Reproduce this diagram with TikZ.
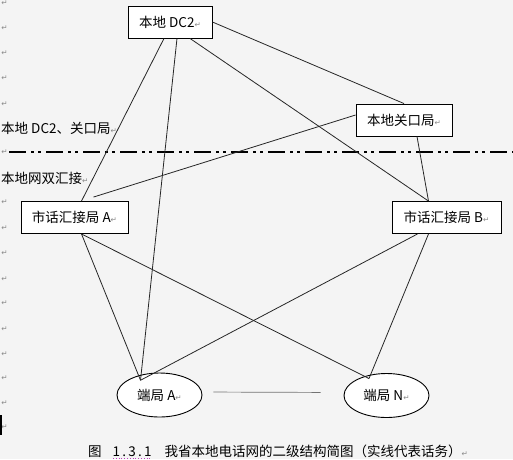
\documentclass[tikz,border=0pt]{standalone}
\usepackage{fontspec}
\setmainfont{Noto Sans CJK SC}
\newfontfamily\symfont{DejaVu Sans}
\usepackage{xcolor}
\usetikzlibrary{shapes.geometric,positioning}

\definecolor{pagebg}{HTML}{F4F4F4}
\definecolor{markgray}{HTML}{8A8A8A}
\definecolor{spellmark}{HTML}{C040C0}
\newcommand{\pmark}{{\symfont\fontsize{7.5}{8}\selectfont\color{markgray}↵}}

\tikzset{
	office/.style={draw, fill=white, line width=0.9pt, minimum height=32pt, inner sep=2pt, font=\fontsize{13.5}{15}\selectfont},
	endoffice/.style={ellipse, draw, fill=white, line width=0.9pt, minimum width=85pt, minimum height=44pt, inner sep=0pt, font=\fontsize{13.5}{15}\selectfont},
	trunk/.style={line width=0.8pt, black!85},
	sidelabel/.style={anchor=west, inner sep=0pt, font=\fontsize{13.5}{15}\selectfont},
	boundary/.style={line width=2.6pt, dash pattern=on 17pt off 5pt on 3pt off 4pt on 3pt off 5pt}
}

\begin{document}
\begin{tikzpicture}[x=1pt,y=-1pt]
	\useasboundingbox (0,0) rectangle (513,459);
	\fill[pagebg] (0,0) rectangle (513,459);

	% paragraph marks in the left margin
	\foreach \yy in {3,28,53,78,104,152,202,228,253,279,303,329,354,378,403,427}
		\node[inner sep=0pt] at (4.5,\yy) {\pmark};
	\fill[black] (0,415) rectangle (2,435);

	% level boundary
	\coordinate (lineL) at (9,152);
	\coordinate (lineR) at (513,152);
	\draw[boundary] (lineL) -- (lineR);
	\node[sidelabel] (upper) at (1,128) {本地 DC2、关口局\pmark};
	\node[sidelabel] (lower) at (1,178) {本地网双汇接\pmark};

	% offices
	\node[office, minimum width=84pt] (dc2) at (170,22) {本地 DC2\pmark};
	\node[office, minimum width=96pt] (gw) at (404,120) {本地关口局\pmark};
	\node[office, minimum width=107pt] (ta) at (74.5,217.5) {市话汇接局 A\pmark};
	\node[office, minimum width=109pt] (tb) at (446.5,217.5) {市话汇接局 B\pmark};
	\node[endoffice] (ea) at (159.5,395) {端局 A\pmark};
	\node[endoffice] (en) at (386.5,395.5) {端局 N\pmark};

	\coordinate (eatop) at ([xshift=-19pt,yshift=-7.7pt]ea.north);
	\coordinate (entop) at ([xshift=-17.5pt,yshift=-5.5pt]en.north);

	% trunks
	\draw[trunk] ([xshift=-6pt]dc2.south) -- ([xshift=7pt]ta.north);
	\draw[trunk] ([xshift=7pt]dc2.south) -- (eatop);
	\draw[trunk] ([xshift=20pt]dc2.south) -- ([xshift=-18pt]tb.north);
	\draw[trunk] (dc2.east) -- (gw.north);
	\draw[trunk] ([yshift=5pt]gw.west) -- ([xshift=19pt,yshift=4pt]ta.north);
	\draw[trunk] ([xshift=13pt]gw.south) -- ([xshift=-18pt]tb.north);
	\draw[trunk] ([xshift=7pt]ta.south) -- (eatop);
	\draw[trunk] ([xshift=7pt]ta.south) -- (entop);
	\draw[trunk] ([xshift=-29pt]tb.south) -- (eatop);
	\draw[trunk] ([xshift=-18pt]tb.south) -- (entop);
	\draw[line width=0.7pt, black!55, shorten <=11pt, shorten >=23pt] ([yshift=3pt]ea.east) -- ([yshift=3pt]en.west);

	% caption
	\node[sidelabel] (caption) at (88,451) {图\hspace{11pt}\makebox[39pt][s]{1\hfill.\hfill3\hfill.\hfill1}\hspace{13pt}我省本地电话网的二级结构简图（实线代表话务）\pmark};
	\draw[spellmark, dotted, line width=0.8pt] (113,458) -- (152,458);
\end{tikzpicture}
\end{document}
